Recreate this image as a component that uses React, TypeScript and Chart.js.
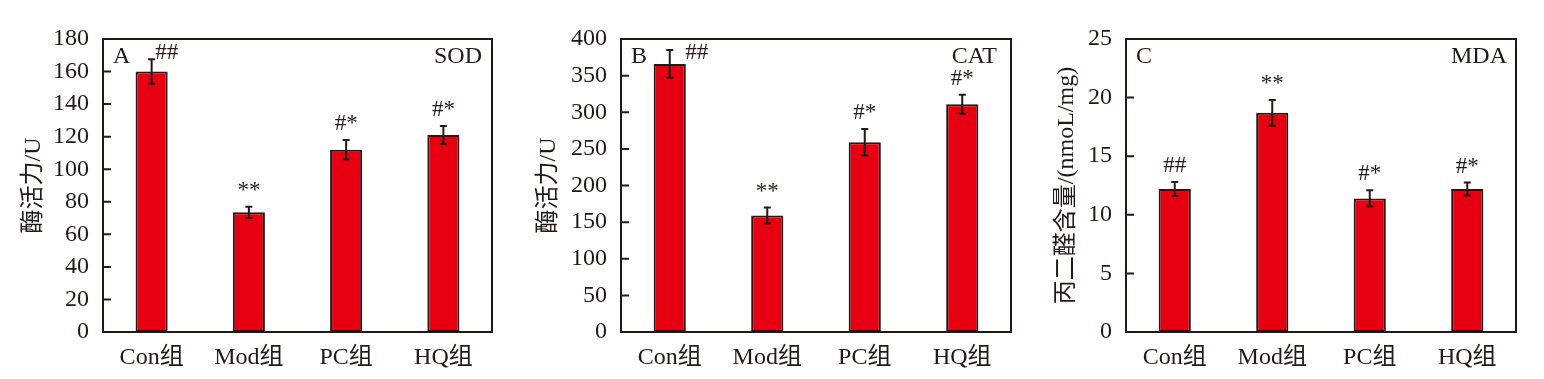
import React, { useEffect, useRef } from 'react';
import { Chart, registerables } from 'chart.js';

Chart.register(...registerables);

const categories = ['Con组', 'Mod组', 'PC组', 'HQ组'];

const sodValues = [160, 73.5, 112, 121];
const sodErrors = [7.5, 3.5, 6, 5.5];
const sodMarks = ['##', '**', '#*', '#*'];

const catValues = [366, 159, 259, 311];
const catErrors = [19, 11, 18, 13];
const catMarks = ['##', '**', '#*', '#*'];

const mdaValues = [12.2, 18.7, 11.4, 12.2];
const mdaErrors = [0.6, 1.1, 0.7, 0.55];
const mdaMarks = ['##', '**', '#*', '#*'];

const INK = '#231815';
const RED = '#e60012';
const FONT = "'Liberation Serif', 'Times New Roman', 'Noto Sans CJK SC', serif";

type PanelSpec = {
  letter: string;
  name: string;
  yTitle: string;
  values: number[];
  errors: number[];
  marks: string[];
  max: number;
  step: number;
  left: number;
  width: number;
  yWidth: number;
  titlePad: number;
  padRight: number;
  nameInset: number;
};

const panels: PanelSpec[] = [
  { letter: 'A', name: 'SOD', yTitle: '酶活力/U', values: sodValues, errors: sodErrors, marks: sodMarks, max: 180, step: 20, left: 0, width: 510, yWidth: 103, titlePad: 19, padRight: 18, nameInset: 10 },
  { letter: 'B', name: 'CAT', yTitle: '酶活力/U', values: catValues, errors: catErrors, marks: catMarks, max: 400, step: 50, left: 510, width: 520, yWidth: 111, titlePad: 24, padRight: 19, nameInset: 14 },
  { letter: 'C', name: 'MDA', yTitle: '丙二醛含量/(nmoL/mg)', values: mdaValues, errors: mdaErrors, marks: mdaMarks, max: 25, step: 5, left: 1030, width: 514, yWidth: 96, titlePad: 22, padRight: 28, nameInset: 9 },
];

function Panel({ spec }: { spec: PanelSpec }) {
  const ref = useRef<HTMLCanvasElement>(null);
  useEffect(() => {
    if (!ref.current) return;
    const decor = {
      id: 'decor',
      afterDatasetsDraw(chart: any) {
        const { ctx, chartArea: a, scales } = chart;
        const y = scales.y;
        const meta = chart.getDatasetMeta(0);
        ctx.save();
        ctx.strokeStyle = INK;
        ctx.fillStyle = INK;
        ctx.lineWidth = 2;
        meta.data.forEach((bar: any, i: number) => {
          const v = spec.values[i];
          const e = spec.errors[i];
          const x = bar.x;
          const yt = y.getPixelForValue(v + e);
          const yb = y.getPixelForValue(v - e);
          ctx.beginPath();
          ctx.moveTo(x, yt);
          ctx.lineTo(x, yb);
          ctx.moveTo(x - 3.5, yt);
          ctx.lineTo(x + 3.5, yt);
          ctx.moveTo(x - 3.5, yb);
          ctx.lineTo(x + 3.5, yb);
          ctx.stroke();
          ctx.font = `23px ${FONT}`;
          ctx.textAlign = 'center';
          ctx.textBaseline = 'middle';
          let mx = x;
          let my = yt - 16;
          if (my - 8 < a.top + 4) {
            mx = x + (yt - a.top < 16 ? 27 : 15);
            my = a.top + 14;
          }
          ctx.fillText(spec.marks[i], mx, my);
        });
        ctx.strokeRect(a.left, a.top, a.width, a.height);
        ctx.beginPath();
        y.ticks.forEach((t: any) => {
          const py = y.getPixelForValue(t.value);
          ctx.moveTo(a.left, py);
          ctx.lineTo(a.left + 8, py);
        });
        ctx.stroke();
        ctx.font = `24px ${FONT}`;
        ctx.textBaseline = 'middle';
        ctx.textAlign = 'left';
        ctx.fillText(spec.letter, a.left + 10, a.top + 18);
        ctx.textAlign = 'right';
        ctx.fillText(spec.name, a.right - spec.nameInset, a.top + 18);
        ctx.restore();
      },
    };
    const chart = new Chart(ref.current, {
      type: 'bar',
      data: {
        labels: categories,
        datasets: [
          {
            data: spec.values,
            backgroundColor: RED,
            borderColor: INK,
            borderWidth: 2,
            borderSkipped: false,
            barPercentage: 0.33,
            categoryPercentage: 1,
          },
        ],
      },
      options: {
        responsive: false,
        animation: false,
        devicePixelRatio: 1,
        layout: { padding: { top: 39, right: spec.padRight, left: 0, bottom: 0 } },
        plugins: { legend: { display: false }, tooltip: { enabled: false } },
        scales: {
          x: {
            grid: { display: false, drawTicks: false },
            border: { display: false },
            ticks: { color: INK, font: { family: FONT, size: 24 }, padding: 11 },
            afterFit: (s: any) => { s.height = 47; },
          },
          y: {
            min: 0,
            max: spec.max,
            grid: { display: false, drawTicks: false },
            border: { display: false },
            ticks: { stepSize: spec.step, color: INK, font: { family: FONT, size: 24 }, padding: 14 },
            title: { display: true, text: spec.yTitle, color: INK, font: { family: FONT, size: 24 }, padding: { top: spec.titlePad, bottom: 0 } },
            afterFit: (s: any) => { s.width = spec.yWidth; },
          },
        },
      },
      plugins: [decor],
    });
    return () => chart.destroy();
  }, [spec]);
  return (
    <canvas
      ref={ref}
      width={spec.width}
      height={379}
      style={{ position: 'absolute', left: spec.left, top: 0, width: spec.width, height: 379 }}
    />
  );
}

export default function App() {
  return (
    <div style={{ position: 'fixed', left: 0, top: 0, width: 1544, height: 379, background: '#fff' }}>
      {panels.map((p) => (
        <Panel key={p.letter} spec={p} />
      ))}
    </div>
  );
}
